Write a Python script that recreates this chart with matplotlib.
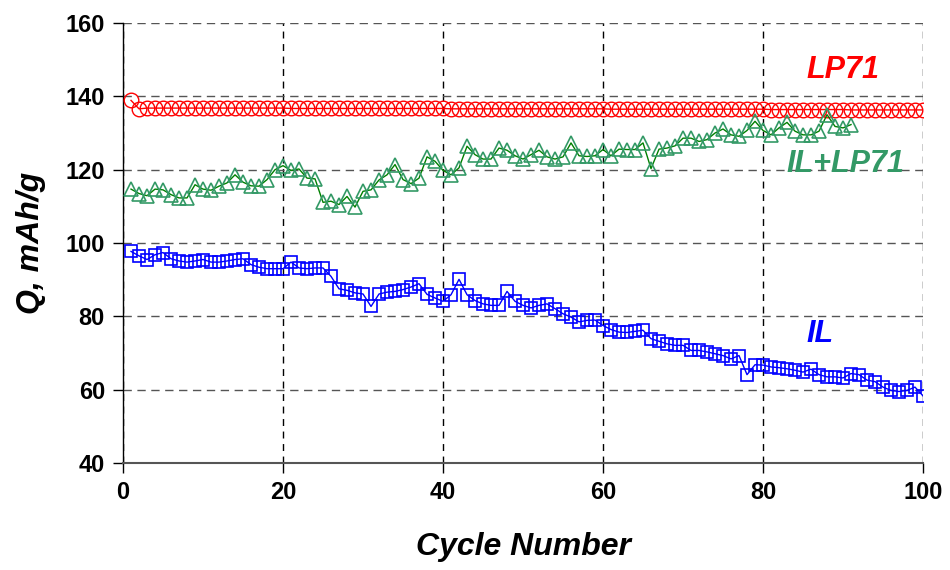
import numpy as np
import matplotlib
matplotlib.use("Agg")
import matplotlib.pyplot as plt

plt.rcParams['font.family'] = ['Liberation Sans', 'DejaVu Sans']

# capacity per cycle
q_lp71 = [138.9, 136.6, 136.8, 136.8, 136.8, 136.8, 136.8, 136.8, 136.8, 136.8,
          136.8, 136.8, 136.8, 136.8, 136.8, 136.8, 136.8, 136.8, 136.8, 136.8,
          136.7, 136.7, 136.7, 136.7, 136.7, 136.7, 136.7, 136.7, 136.7, 136.7,
          136.7, 136.7, 136.7, 136.7, 136.7, 136.7, 136.7, 136.7, 136.7, 136.7,
          136.6, 136.6, 136.6, 136.6, 136.6, 136.6, 136.6, 136.6, 136.6, 136.6,
          136.6, 136.6, 136.6, 136.6, 136.6, 136.6, 136.6, 136.6, 136.6, 136.6,
          136.5, 136.5, 136.5, 136.5, 136.5, 136.5, 136.5, 136.5, 136.5, 136.5,
          136.5, 136.5, 136.5, 136.5, 136.5, 136.5, 136.5, 136.5, 136.5, 136.5,
          136.4, 136.4, 136.4, 136.4, 136.4, 136.4, 136.4, 136.4, 136.4, 136.4,
          136.3, 136.3, 136.3, 136.3, 136.3, 136.3, 136.3, 136.3, 136.3, 136.3]

q_mix = [114.7, 113.5, 112.9, 114.7, 114.5, 113.2, 112.3, 112.3, 115.9, 114.7,
         114.4, 115.5, 116.4, 118.6, 116.6, 115.6, 115.5, 117.3, 120.0, 121.1,
         119.8, 120.2, 117.7, 117.5, 111.1, 111.4, 110.5, 112.7, 109.8, 114.1,
         114.5, 117.2, 118.6, 121.4, 117.3, 116.2, 117.7, 123.5, 122.3, 119.8,
         118.6, 120.5, 126.4, 124.1, 122.9, 122.9, 125.9, 125.3, 123.8, 122.9,
         124.1, 125.3, 123.5, 122.9, 123.5, 127.3, 123.8, 123.6, 123.8, 125.5,
         123.8, 125.6, 125.5, 125.5, 127.3, 120.3, 125.6, 125.9, 126.5, 128.6,
         128.6, 127.7, 128.2, 130.0, 131.1, 129.5, 129.1, 130.7, 133.2, 130.7,
         129.5, 131.4, 132.9, 130.5, 129.5, 129.5, 130.5, 135.0, 131.8, 131.4,
         132.3]

q_il = [97.7, 96.5, 95.5, 96.8, 97.4, 95.7, 95.1, 94.8, 95.1, 95.5,
        94.8, 94.8, 95.1, 95.5, 95.7, 94.1, 93.4, 93.0, 93.0, 93.0,
        94.8, 93.2, 93.0, 93.2, 93.2, 90.9, 87.5, 87.1, 86.4, 86.1,
        82.7, 86.1, 86.6, 86.8, 87.3, 88.0, 88.9, 86.0, 85.0, 84.1,
        85.9, 90.1, 85.9, 84.3, 83.4, 83.0, 83.0, 86.8, 84.1, 83.0,
        82.3, 83.0, 83.4, 82.1, 80.7, 79.8, 78.5, 78.9, 79.0, 77.5,
        76.4, 75.7, 75.6, 75.9, 76.2, 73.9, 73.2, 72.5, 72.1, 72.1,
        70.7, 70.7, 70.3, 69.8, 69.3, 68.4, 69.3, 64.1, 66.8, 66.7,
        66.2, 66.0, 65.7, 65.3, 64.8, 65.6, 64.1, 63.5, 63.5, 63.2,
        64.4, 64.1, 62.6, 62.2, 60.7, 59.8, 59.5, 59.8, 60.7, 58.3]

cyc_lp71 = np.arange(1, len(q_lp71) + 1)
cyc_mix = np.arange(1, len(q_mix) + 1)
cyc_il = np.arange(1, len(q_il) + 1)

red = "#FF0000"
green = "#339966"
blue = "#0000FF"

fig = plt.figure(figsize=(9.5, 5.7), dpi=100)
ax = fig.add_axes([0.1295, 0.1877, 0.8421, 0.7719])

ax.plot(cyc_lp71, q_lp71, color=red, lw=1, marker="o", ms=10.5,
        mfc="none", mec=red, mew=1, zorder=3)
ax.plot(cyc_mix, q_mix, color="#008000", lw=1, marker="^", ms=10.5,
        mfc="none", mec=green, mew=1.2, zorder=3)
ax.plot(cyc_il, q_il, color=blue, lw=1, marker="s", ms=9,
        mfc="none", mec=blue, mew=1.2, zorder=3)

ax.set_xlim(0, 100)
ax.set_ylim(40, 160)
ax.set_xticks(np.arange(0, 101, 20))
ax.set_yticks(np.arange(40, 161, 20))

ax.grid(True, which="major", axis="x", color="black", ls=(0, (5, 4)), lw=1)
ax.grid(True, which="major", axis="y", color="#555555", ls=(0, (6, 4)), lw=1)
ax.set_axisbelow(True)

for s in ["top", "right"]:
    ax.spines[s].set_visible(False)
ax.spines["left"].set_color("black")
ax.spines["left"].set_linewidth(1)
ax.spines["bottom"].set_color("#555555")
ax.spines["bottom"].set_linewidth(1.5)

ax.tick_params(axis="both", direction="out", length=7, width=1,
               labelsize=17, pad=6)
for lab in ax.get_xticklabels() + ax.get_yticklabels():
    lab.set_fontweight("bold")

ax.set_xlabel("Cycle Number", fontsize=23, fontweight="bold", style="italic",
              labelpad=20)
ax.set_ylabel("Q, mAh/g", fontsize=23, fontweight="bold", style="italic",
              labelpad=14)

ax.text(90, 147.3, "LP71", color=red, fontsize=22, fontweight="bold",
        style="italic", ha="center", va="center")
ax.text(90.3, 121.5, "IL+LP71", color=green, fontsize=22, fontweight="bold",
        style="italic", ha="center", va="center")
ax.text(87.1, 75.2, "IL", color=blue, fontsize=22, fontweight="bold",
        style="italic", ha="center", va="center")

fig.savefig("out.png", dpi=100)
